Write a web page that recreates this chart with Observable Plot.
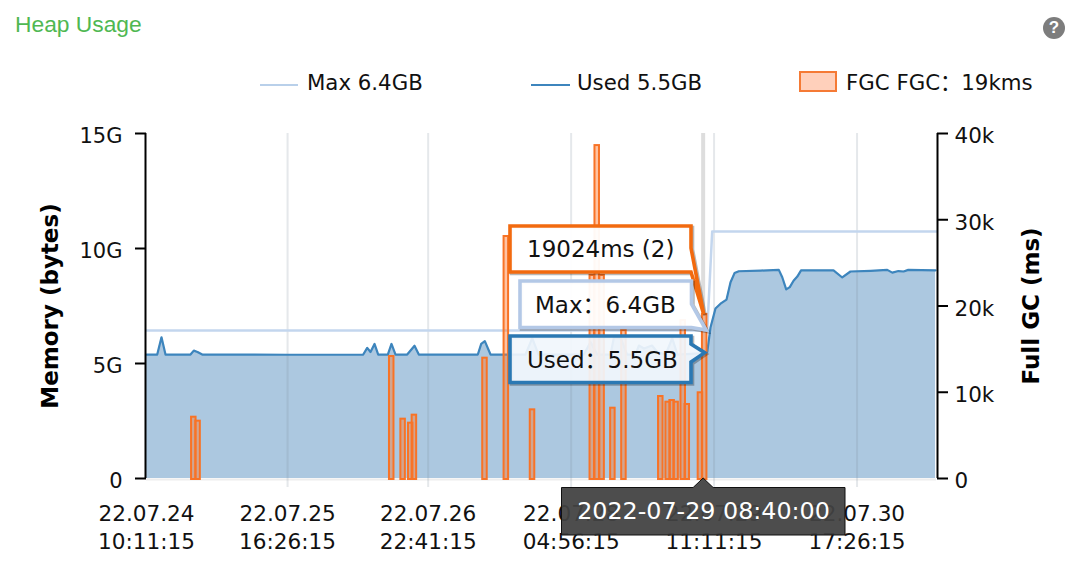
<!DOCTYPE html>
<html>
<head>
<meta charset="utf-8">
<script src="https://cdn.jsdelivr.net/npm/d3@7"></script>
<script src="https://cdn.jsdelivr.net/npm/@observablehq/plot@0.6"></script>
<style>
html,body{margin:0;padding:0;background:#fff;width:1080px;height:581px;overflow:hidden}
#head{position:relative;width:1080px;height:110px;font-family:"DejaVu Sans","Noto Sans CJK SC",sans-serif;color:#111}
#title{position:absolute;left:15px;top:11px;font:22.8px "Liberation Sans",Arial,sans-serif;color:#4fb852}
#help{position:absolute;left:1043px;top:17px;width:22px;height:22px;border-radius:11px;background:#7d7d7d;color:#fff;font:bold 17px/22px "Liberation Sans",sans-serif;text-align:center}
.lg{position:absolute;top:70px;font-size:21.3px;line-height:26px;white-space:pre}
.sw{position:absolute;box-sizing:border-box}
svg{display:block}
</style>
</head>
<body>
<div id="head">
  <div id="title">Heap Usage</div>
  <div id="help">?</div>
  <div class="sw" style="left:260px;top:84px;width:38px;height:2px;background:#b9d0ea"></div>
  <div class="lg" style="left:307px">Max 6.4GB</div>
  <div class="sw" style="left:531px;top:84px;width:39px;height:2px;background:#3d85bd"></div>
  <div class="lg" style="left:577px">Used 5.5GB</div>
  <div class="sw" style="left:799px;top:71px;width:38px;height:21px;background:#ffd0bb;border:2px solid #f57a35"></div>
  <div class="lg" style="left:846px">FGC FGC：19kms</div>
</div>
<div id="chart"></div>
<script>
// Hours since the start of the axis, and heap values in GB
const startTime = Date.UTC(2022, 6, 24, 10, 11, 15);
const spanHours = 168;
const usedHours = [0,2.28,3.19,4.04,9.36,10.06,10.85,11.85,30,46.09,46.94,47.64,48.49,49.28,51.32,52.1,52.96,55.44,57.0,57.91,70.46,71.18,71.95,73.16,75.92,80.6,82.03,83.37,93.0,94.43,95.85,98.68,99.4,100.8,102.2,104,104.7,105.8,107.5,108.6,110.4,111.8,112.9,118.46,119.25,119.95,121.0,122.07,123.35,124.2,125.05,125.96,130.6,134.47,135.2,136.04,136.8,137.6,138.4,139.2,146.1,147.96,149.7,154,157.53,158.6,159.9,161,162,167.8];
const usedGB = [5.39,5.39,6.14,5.39,5.39,5.56,5.5,5.39,5.38,5.39,5.68,5.5,5.85,5.39,5.39,5.85,5.39,5.39,5.77,5.39,5.39,5.85,5.97,5.39,5.39,5.39,6.1,5.39,5.39,5.93,5.39,5.39,6.13,6.13,5.39,5.39,5.78,5.65,5.78,5.5,5.39,6.1,5.39,5.45,5.5,6.58,7.39,7.6,7.78,8.53,8.93,9.01,9.04,9.07,8.75,8.22,8.32,8.6,8.78,9.05,9.05,8.74,9.0,9.03,9.07,8.95,9.02,9.0,9.07,9.05];
const maxHours = [0,119.25,120.3,168];
const maxGB = [6.43,6.43,10.74,10.74];
// Full GC bars: hour position and duration in ms
const fgcHours = [10.06,10.97,52.15,54.57,56.19,56.97,71.98,76.52,82.09,94.8,95.85,96.89,99.18,101.53,109.37,110.93,111.78,112.63,114.14,115,117.8,118.7];
const fgcMs = [7107,6648,14145,6879,6416,7343,13950,28058,7960,23536,38600,23536,8150,17160,9507,8850,9043,8850,18320,8580,9936,19024];
const xTickHours = [0,30,59.9,90.3,120.7,151.1];
const xTickLabels = ["22.07.24\n10:11:15","22.07.25\n16:26:15","22.07.26\n22:41:15","22.07.28\n04:56:15","22.07.29\n11:11:15","22.07.30\n17:26:15"];
const gridHours = xTickHours.slice(1);
const memTicks = [0,5,10,15];
const memTickLabels = ["0","5G","10G","15G"];
const fgcTicks = [0,10000,20000,30000,40000];
const fgcTickLabels = ["0","10k","20k","30k","40k"];
const cursorHours = 118.48;
const cursorLabel = "2022-07-29 08:40:00";
const tipFgc = 19024, tipMax = 6.43, tipUsed = 5.45;

const t = h => new Date(startTime + h * 3600000);
const fgcToY = ms => ms * 15 / 40000;
const used = usedHours.map((h,i) => ({x:t(h), y:usedGB[i]}));
const maxS = maxHours.map((h,i) => ({x:t(h), y:maxGB[i]}));
const fgc = fgcHours.map((h,i) => ({x1:t(h-0.48), x2:t(h+0.48), y:fgcToY(fgcMs[i])}));
const memRows = memTicks.map((v,i) => ({v, label:memTickLabels[i]}));
const fgcRows = fgcTicks.map((v,i) => ({v:fgcToY(v), label:fgcTickLabels[i]}));
const HEAD = 110;
const FONT = '"DejaVu Sans","Noto Sans CJK SC",sans-serif';

function callouts(index, {x, y}) {
  const g = d3.create("svg:g").attr("font-family", FONT).attr("font-size", 23).attr("text-anchor","start");
  const cx = x(t(cursorHours));
  const box = (l,r,top,bot,stroke,fill,tail,label,tx) => {
    const pts = [[l,top],[r,top],...tail,[r,bot],[l,bot]];
    const d = "M"+pts.join("L")+"Z";
    g.append("path").attr("d",d).attr("fill","none").attr("stroke","rgba(0,0,0,.28)").attr("stroke-width",3.6)
      .attr("transform","translate(1.5,1.5)");
    g.append("path").attr("d",d).attr("fill",fill).attr("stroke",stroke).attr("stroke-width",3.6);
    g.append("text").attr("x",tx).attr("y",(top+bot)/2).attr("dy","0.36em").attr("fill","#111").text(label);
  };
  const T = v => v - HEAD;
  box(510,691,T(226),T(272),"#f26a0f","rgba(255,255,255,.95)",
      [[691,T(248)],[cx+0.5,y(fgcToY(tipFgc))]], tipFgc+"ms (2)", 527);
  box(520,691.5,T(281),T(327.5),"#b3c8e6","rgba(255,255,255,.95)",
      [[691.5,T(304)],[cx+3,y(tipMax)]], "Max：6.4GB", 535);
  box(510,691,T(336),T(382.5),"#2a78b3","rgba(241,246,252,.92)",
      [[691,T(344)],[cx+1.5,y(tipUsed)],[691,T(362)]], "Used：5.5GB", 527);
  // date flag under the axis
  const by = y(0), f = [[561.5,by+9.5],[cx-10,by+9.5],[cx,by],[cx+10,by+9.5],[845,by+9.5],[845,by+57],[561.5,by+57]];
  g.append("path").attr("d","M"+f.join("L")+"Z").attr("fill","rgba(66,66,66,.94)").attr("stroke","#111").attr("stroke-width",1);
  g.append("text").attr("x",703.5).attr("y",by+32).attr("dy","0.36em").attr("text-anchor","middle")
    .attr("fill","#fff").attr("font-size",23.8).text(cursorLabel);
  return g.node();
}

const plot = Plot.plot({
  width:1080, height:471,
  marginTop:23, marginBottom:103, marginLeft:146, marginRight:144,
  style:{fontFamily:FONT, fontSize:"21px", color:"#111", background:"#fff"},
  x:{type:"utc", domain:[t(0), t(spanHours)]},
  y:{domain:[0,15]},
  marks:[
    Plot.areaY(used,{x:"x",y:"y",fill:"#acc8e0"}),
    Plot.ruleY([0],{stroke:"#eeeeee",strokeWidth:2,dy:1}),
    Plot.ruleX(gridHours.map(t),{stroke:"#7f8c99",strokeOpacity:.2,strokeWidth:2,insetBottom:-9}),
    Plot.ruleX([t(cursorHours)],{stroke:"#cfcfcf",strokeOpacity:.7,strokeWidth:4,dx:-0.5}),
    Plot.line(maxS,{x:"x",y:"y",stroke:"#c3d6ee",strokeWidth:2.5}),
    Plot.line(used,{x:"x",y:"y",stroke:"#3d85bd",strokeWidth:2.2}),
    Plot.rectY(fgc,{x1:"x1",x2:"x2",y1:0,y2:"y",fill:"#ff7a30",fillOpacity:.45,stroke:"#f87326",strokeWidth:2,insetBottom:-1}),
    Plot.ruleX([t(0)],{stroke:"#000",strokeWidth:2,dx:-1}),
    Plot.ruleX([t(spanHours)],{stroke:"#000",strokeWidth:2,dx:1}),
    Plot.axisY({anchor:"left",ticks:memTicks,tickSize:11,strokeWidth:2,stroke:"#000",label:null,tickFormat:()=>""}),
    Plot.axisY({anchor:"right",ticks:fgcRows.map(d=>d.v),tickSize:11,strokeWidth:2,stroke:"#000",label:null,tickFormat:()=>""}),
    Plot.text(memRows,{frameAnchor:"left",y:"v",text:"label",textAnchor:"end",dx:-24,dy:2.5,fontSize:21,fill:"#111"}),
    Plot.text(fgcRows,{frameAnchor:"right",y:"v",text:"label",textAnchor:"start",dx:18,dy:3,fontSize:21.5,fill:"#111"}),
    Plot.axisX({anchor:"bottom",ticks:xTickHours.map(t),tickSize:0,tickPadding:23.5,lineHeight:1.27,label:null,fontSize:21.6,
      tickFormat:d=>xTickLabels[xTickHours.map(t).findIndex(v=>+v===+d)]}),
    Plot.text(["Memory (bytes)"],{frameAnchor:"left",textAnchor:"middle",rotate:-90,dx:-96,fontWeight:"bold",fontSize:23,fill:"#000"}),
    Plot.text(["Full GC (ms)"],{frameAnchor:"right",textAnchor:"middle",rotate:-90,dx:95,fontWeight:"bold",fontSize:23,fill:"#000"}),
    callouts
  ]
});
document.getElementById("chart").appendChild(plot);
</script>
</body>
</html>
